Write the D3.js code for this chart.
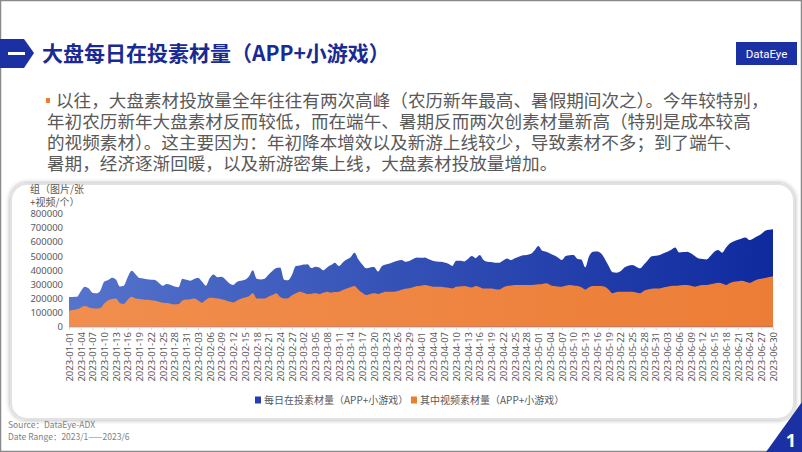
<!DOCTYPE html>
<html>
<head>
<meta charset="utf-8">
<script src="https://d3js.org/d3.v7.min.js"></script>
<style>
  body { margin: 0; background: #fff; }
  svg { display: block; font-family: "Noto Sans CJK SC", "Noto Sans", sans-serif; }
</style>
</head>
<body>
<svg id="chart" width="802" height="452"></svg>
<script>
// daily values, 2023-01-01 .. 2023-06-30
const startDate = "2023-01-01"
const endDate = "2023-06-30"
const totalMaterial = [210,211,212,250,283,272,240,236,255,318,330,347,335,285,290,350,396,372,345,342,
  336,332,330,310,290,302,295,285,280,340,332,326,338,347,320,290,345,370,350,354,
  335,308,296,318,325,332,355,400,340,335,340,368,395,415,420,332,328,366,430,434,
  440,443,415,425,420,400,420,436,453,430,455,475,492,524,475,440,413,420,422,390,
  428,440,448,458,467,472,460,465,480,490,488,490,478,467,462,460,455,445,430,467,
  467,462,480,500,485,507,472,460,458,453,453,468,483,472,485,495,505,508,514,540,
  571,538,531,518,505,490,472,500,505,507,480,476,420,500,530,532,520,480,430,385,
  382,392,420,432,436,425,413,440,470,498,502,507,520,531,545,561,525,528,531,520,
  500,483,480,476,500,530,543,524,560,590,605,615,625,632,613,625,640,656,679,686,690].map(v => v * 1000)
const videoMaterial = [113,118,123,135,146,138,130,128,132,165,188,196,200,168,160,190,212,200,196,193,
  190,187,184,176,170,167,163,158,160,186,192,195,200,188,170,190,205,204,200,195,
  188,178,172,185,198,206,215,236,200,200,200,212,224,236,210,200,202,222,236,248,
  240,231,234,236,231,240,248,241,245,248,260,271,280,288,262,240,224,232,236,231,
  240,248,248,248,253,262,268,272,280,288,290,295,290,283,283,283,280,275,271,283,
  285,288,283,278,288,280,271,271,270,266,264,278,288,292,295,295,295,295,295,297,
  300,303,307,296,288,285,283,290,295,292,288,280,264,280,288,288,288,283,262,236,
  245,248,248,248,248,242,236,255,264,268,270,271,278,283,288,290,292,295,295,290,
  283,290,295,295,300,306,311,305,295,310,318,322,325,318,311,322,335,340,345,352,358].map(v => v * 1000)
const yTicks = [0,100000,200000,300000,400000,500000,600000,700000,800000]
const seriesNames = ["每日在投素材量（APP+小游戏）", "其中视频素材量（APP+小游戏）"]

const parse = d3.timeParse("%Y-%m-%d")
const dates = d3.timeDay.range(parse(startDate), d3.timeDay.offset(parse(endDate), 1))

const svg = d3.select("#chart")
const defs = svg.append("defs")

// slide frame
svg.append("rect").attr("x", 0.5).attr("y", 0.5).attr("width", 801).attr("height", 451)
  .attr("fill", "#fff").attr("stroke", "#8a8a8a").attr("stroke-width", 1.5)

// title
svg.append("path").attr("d", "M0,39 L24,39 L34,53 L24,68 L0,68 Z").attr("fill", "#1b31a3")
svg.append("rect").attr("x", 8).attr("y", 52).attr("width", 17).attr("height", 3).attr("fill", "#fff")
svg.append("text").attr("x", 42).attr("y", 61).attr("font-size", 21).attr("font-weight", "bold")
  .attr("fill", "#1a2a94").text("大盘每日在投素材量（APP+小游戏）")

// logo
svg.append("rect").attr("x", 736).attr("y", 42).attr("width", 61).attr("height", 23).attr("fill", "#1b31a3")
svg.append("text").attr("x", 766.5).attr("y", 57.5).attr("text-anchor", "middle").attr("font-size", 11.5)
  .attr("font-family", "Roboto, sans-serif").attr("fill", "#fff").text("DataEye")

// paragraph
const para = [
  "以往，大盘素材投放量全年往往有两次高峰（农历新年最高、暑假期间次之）。今年较特别，",
  "年初农历新年大盘素材反而较低，而在端午、暑期反而两次创素材量新高（特别是成本较高",
  "的视频素材）。这主要因为：年初降本增效以及新游上线较少，导致素材不多；到了端午、",
  "暑期，经济逐渐回暖，以及新游密集上线，大盘素材投放量增加。"
]
svg.append("rect").attr("x", 46).attr("y", 98).attr("width", 4).attr("height", 5).attr("fill", "#ed7d31")
svg.append("g").selectAll("text").data(para).join("text")
  .attr("x", (d, i) => i === 0 ? 56 : 47)
  .attr("y", (d, i) => 107 + i * 21)
  .attr("font-size", 17.6).attr("fill", "#595959")
  .text(d => d)

// chart panel
const shadow = defs.append("filter").attr("id", "sh").attr("x", "-5%").attr("y", "-10%").attr("width", "110%").attr("height", "120%")
shadow.append("feGaussianBlur").attr("in", "SourceAlpha").attr("stdDeviation", 2.5)
shadow.append("feComponentTransfer").append("feFuncA").attr("type", "linear").attr("slope", 0.35)
const fm = shadow.append("feMerge")
fm.append("feMergeNode")
fm.append("feMergeNode").attr("in", "SourceGraphic")
svg.append("rect").attr("x", 11).attr("y", 184).attr("width", 783).attr("height", 235).attr("rx", 16)
  .attr("fill", "#fff").attr("stroke", "#e2e2e2").attr("stroke-width", 2).attr("filter", "url(#sh)")

// scales
const x = d3.scaleTime().domain(d3.extent(dates)).range([69, 773])
const y = d3.scaleLinear().domain([0, 800000]).range([326.7, 213.7])

const gBlue = defs.append("linearGradient").attr("id", "gb").attr("x1", "0").attr("x2", "1").attr("y1", "0").attr("y2", "0")
gBlue.append("stop").attr("offset", "0").attr("stop-color", "#5574cc")
gBlue.append("stop").attr("offset", "1").attr("stop-color", "#0f2a9e")
const gOr = defs.append("linearGradient").attr("id", "go").attr("x1", "0").attr("x2", "1").attr("y1", "0").attr("y2", "0")
gOr.append("stop").attr("offset", "0").attr("stop-color", "#f18e4e")
gOr.append("stop").attr("offset", "1").attr("stop-color", "#ec7d36")

const area = vals => d3.area().x((d, i) => x(dates[i])).y0(y(0)).y1(d => y(d)).curve(d3.curveMonotoneX)(vals)
svg.append("path").attr("d", area(totalMaterial)).attr("fill", "url(#gb)")
svg.append("path").attr("d", area(videoMaterial)).attr("fill", "url(#go)")

// y axis
const ya = svg.append("g").attr("transform", "translate(63,0)")
  .call(d3.axisLeft(y).tickValues(yTicks).tickSize(0).tickPadding(0).tickFormat(d3.format("d")))
ya.select(".domain").remove()
ya.selectAll("text").attr("font-size", 9.5).attr("fill", "#595959").attr("font-family", "'Noto Sans', sans-serif")

svg.append("text").attr("x", 30).attr("y", 193).attr("font-size", 10).attr("fill", "#595959").text("组（图片/张")
svg.append("text").attr("x", 30).attr("y", 206).attr("font-size", 10).attr("fill", "#595959").text("+视频/个）")

// x axis
const tickDates = dates.filter((d, i) => i % 3 === 0)
const xa = svg.append("g").attr("transform", "translate(0,327)")
  .call(d3.axisBottom(x).tickValues(tickDates).tickSize(3).tickFormat(d3.timeFormat("%Y-%m-%d")))
xa.select(".domain").attr("stroke", "#d9d9d9")
xa.selectAll("line").attr("stroke", "#d9d9d9")
xa.selectAll("text")
  .attr("transform", "rotate(-90)")
  .attr("text-anchor", "end")
  .attr("x", -5).attr("y", 0).attr("dy", "0.35em")
  .attr("font-size", 9.5).attr("fill", "#595959").attr("font-family", "'Noto Sans', sans-serif")

// legend
const legend = svg.append("g").attr("transform", "translate(255,400)")
const legColors = ["#2440b0", "#ed7d31"]
const legX = [0, 156]
seriesNames.forEach((name, i) => {
  legend.append("rect").attr("x", legX[i]).attr("y", -3.5).attr("width", 6).attr("height", 7).attr("fill", legColors[i])
  legend.append("text").attr("x", legX[i] + 9).attr("y", 3.5).attr("font-size", 10).attr("fill", "#595959").text(name)
})

// source
svg.append("text").attr("x", 8).attr("y", 428).attr("font-size", 8.5).attr("fill", "#7f7f7f").text("Source：DataEye-ADX")
svg.append("text").attr("x", 8).attr("y", 440).attr("font-size", 8.5).attr("fill", "#7f7f7f").text("Date Range：2023/1——2023/6")

// page number
svg.append("path").attr("d", "M766,452 L802,452 L802,402 Z").attr("fill", "#1b31a3")
svg.append("text").attr("x", 791).attr("y", 447).attr("text-anchor", "middle").attr("font-size", 18)
  .attr("font-weight", "bold").attr("fill", "#fff").attr("font-family", "'Noto Sans', sans-serif").text("1")
</script>
</body>
</html>
